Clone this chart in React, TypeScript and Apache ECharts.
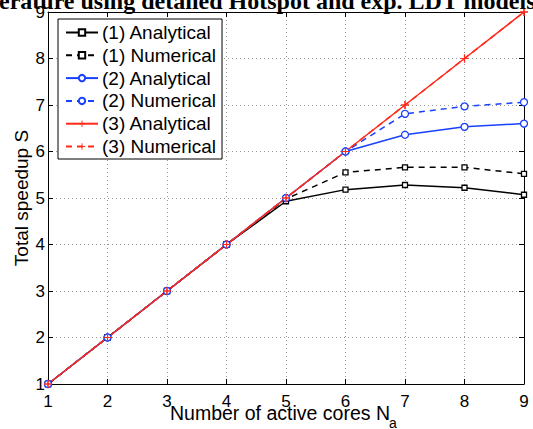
import React, { useEffect, useRef } from "react";
import * as echarts from "echarts";

const cores = [1, 2, 3, 4, 5, 6, 7, 8, 9];
const analytical1 = [1, 2, 3, 4, 4.93, 5.18, 5.28, 5.22, 5.07];
const numerical1 = [1, 2, 3, 4, 4.98, 5.55, 5.66, 5.66, 5.52];
const analytical2 = [1, 2, 3, 4, 5, 6, 6.36, 6.53, 6.6];
const numerical2 = [1, 2, 3, 4, 5, 6, 6.81, 6.97, 7.06];
const analytical3 = [1, 2, 3, 4, 5, 6, 7, 8, 9];
const numerical3 = [1, 2, 3, 4, 5, 6, 7, 8, 9];
const seriesNames = [
  "(1) Analytical",
  "(1) Numerical",
  "(2) Analytical",
  "(2) Numerical",
  "(3) Analytical",
  "(3) Numerical",
];
const titleText = "erature using detailed Hotspot and exp. LDT models";
const xName = "Number of active cores N";
const xNameSub = "a";
const yName = "Total speedup S";

const BLACK = "#000000";
const BLUE = "#1a40ff";
const RED = "#ff2a1a";
const PLUS = "path://M4.3,0 H5.7 V4.3 H10 V5.7 H5.7 V10 H4.3 V5.7 H0 V4.3 H4.3 Z";
const FONT = "Liberation Sans";

function pairs(ys: number[]) {
  return cores.map((x, i) => [x, ys[i]]);
}

export default function App() {
  const ref = useRef<HTMLDivElement>(null);
  useEffect(() => {
    if (!ref.current) return;
    const chart = echarts.init(ref.current, null, { renderer: "svg" });
    const mk = (
      name: string,
      ys: number[],
      color: string,
      dashed: boolean,
      symbol: string,
      size: number,
      filled: boolean
    ) => ({
      name,
      type: "line",
      data: pairs(ys),
      symbol,
      symbolSize: size,
      showAllSymbol: true,
      lineStyle: { color, width: 1.5, type: dashed ? [6, 5] : "solid" },
      itemStyle: filled
        ? { color, borderWidth: 0 }
        : { color: "#ffffff", borderColor: color, borderWidth: 1.3 },
      emphasis: { disabled: true },
    });
    const axisCommon = {
      type: "value",
      min: 1,
      max: 9,
      interval: 1,
      axisLine: { show: true, lineStyle: { color: "#000", width: 1 } },
      axisTick: { show: true, inside: true, length: 5, lineStyle: { color: "#000" } },
    };
    chart.setOption({
      animation: false,
      backgroundColor: "#ffffff",
      grid: {
        left: 48,
        right: 9,
        top: 12,
        bottom: 45,
        containLabel: false,
        outerBoundsMode: "none",
      },
      legend: {
        left: 58,
        top: 19,
        orient: "vertical",
        data: seriesNames,
        itemWidth: 32,
        itemHeight: 8,
        itemGap: 3.8,
        padding: [4, 6, 3, 7],
        backgroundColor: "#ffffff",
        borderColor: "#000",
        borderWidth: 1,
        borderRadius: 0,
        textStyle: { fontFamily: FONT, fontSize: 19, color: "#000", padding: [0, 0, 0, -1] },
      },
      xAxis: [
        {
          ...axisCommon,
          position: "bottom",
          axisLabel: { fontFamily: FONT, fontSize: 17, color: "#000", margin: 9 },
          splitLine: { show: true, lineStyle: { color: "#999", type: [1, 3], width: 1 } },
        },
        {
          ...axisCommon,
          position: "top",
          axisLabel: { show: false },
          splitLine: { show: false },
        },
      ],
      yAxis: [
        {
          ...axisCommon,
          position: "left",
          axisLabel: { fontFamily: FONT, fontSize: 17, color: "#000", margin: 3 },
          splitLine: { show: true, lineStyle: { color: "#999", type: [1, 3], width: 1 } },
          name: yName,
          nameLocation: "middle",
          nameGap: 17,
          nameMoveOverlap: false,
          nameTextStyle: { fontFamily: FONT, fontSize: 19, color: "#000" },
        },
        {
          ...axisCommon,
          position: "right",
          axisLabel: { show: false },
          splitLine: { show: false },
        },
      ],
      graphic: [
        {
          type: "text",
          left: -1,
          top: -11,
          style: {
            text: titleText,
            font: "bold 24px 'Liberation Serif'",
            fill: "#000",
          },
          z: 100,
        },
        {
          type: "text",
          x: 280,
          y: 413,
          style: {
            text: xName,
            font: "19.5px 'Liberation Sans'",
            fill: "#000",
            textAlign: "center",
            textVerticalAlign: "middle",
          },
        },
        {
          type: "text",
          x: 389,
          y: 423,
          style: {
            text: xNameSub,
            font: "14px 'Liberation Sans'",
            fill: "#000",
            textAlign: "left",
            textVerticalAlign: "middle",
          },
        },
      ],
      series: [
        mk(seriesNames[0], analytical1, BLACK, false, "rect", 5, false),
        mk(seriesNames[1], numerical1, BLACK, true, "rect", 5, false),
        mk(seriesNames[2], analytical2, BLUE, false, "circle", 7, false),
        mk(seriesNames[3], numerical2, BLUE, true, "circle", 7, false),
        mk(seriesNames[4], analytical3, RED, false, PLUS, 8, true),
        mk(seriesNames[5], numerical3, RED, true, PLUS, 8, true),
      ],
    });
    return () => chart.dispose();
  }, []);
  return (
    <div
      ref={ref}
      style={{ position: "fixed", left: 0, top: 0, width: 533, height: 429 }}
    />
  );
}
